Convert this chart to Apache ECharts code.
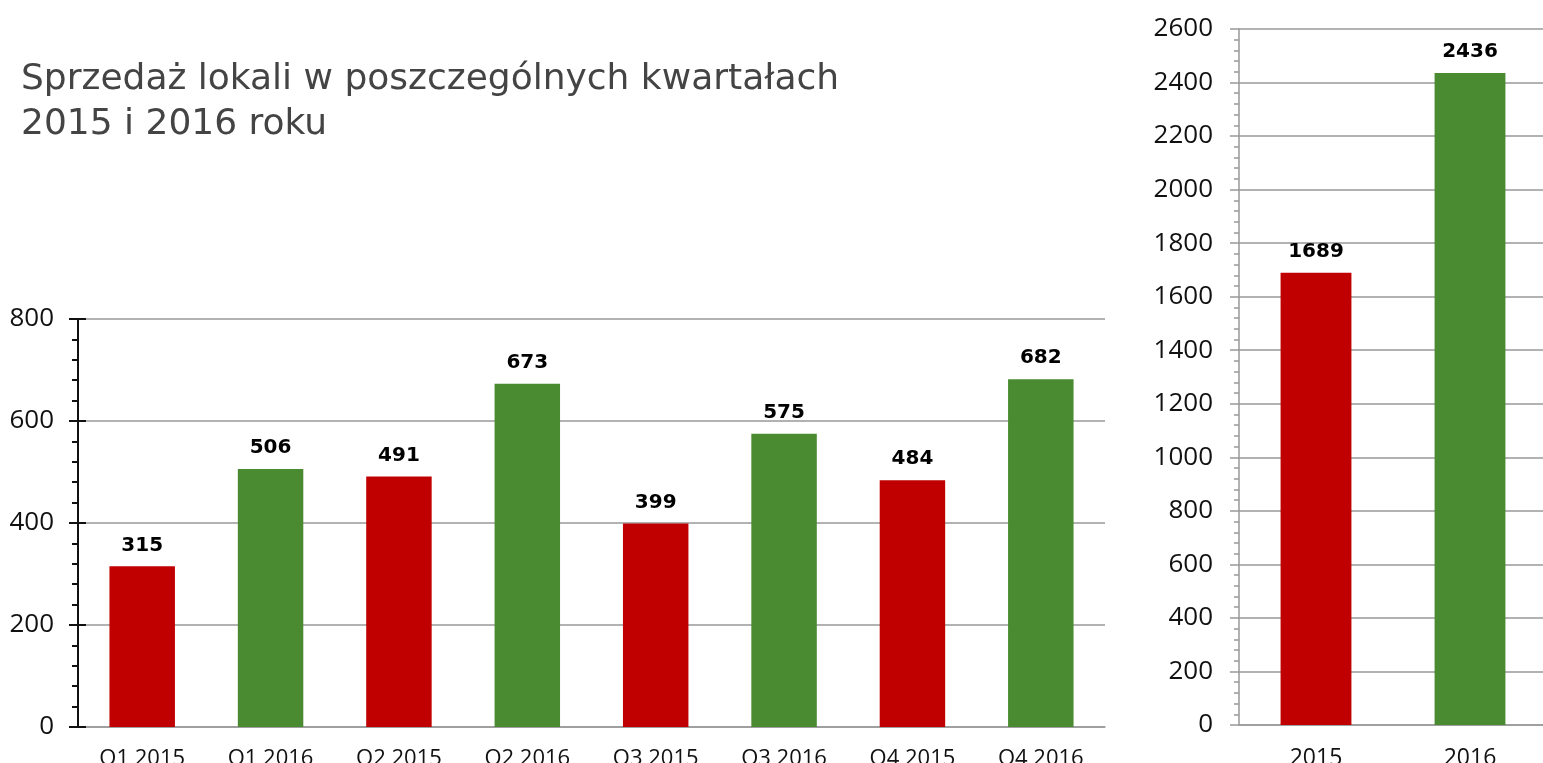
<!DOCTYPE html>
<html>
<head>
<meta charset="utf-8">
<script src="https://cdn.jsdelivr.net/npm/echarts@6/dist/echarts.min.js"></script>
<style>
  html, body { margin: 0; padding: 0; background: #fff; }
  #chart { width: 1543px; height: 763px; }
</style>
</head>
<body>
<div id="chart"></div>
<script>
const quarters = ["Q1 2015", "Q1 2016", "Q2 2015", "Q2 2016", "Q3 2015", "Q3 2016", "Q4 2015", "Q4 2016"];
const quarterValues = [315, 506, 491, 673, 399, 575, 484, 682];
const years = ["2015", "2016"];
const yearValues = [1689, 2436];

const RED = "#C00000";
const GREEN = "#4A8A30";
const colorOf = (label) => (label.indexOf("2015") >= 0 ? RED : GREEN);

const labelStyle = {
    show: true,
    position: "top",
    distance: 11,
    color: "#000",
    fontFamily: "DejaVu Sans",
    fontWeight: "bold",
    fontSize: 20,
};

const tickFont = { fontSize: 26, color: "#111", fontFamily: "Open Sans" };

const chart = echarts.init(document.getElementById("chart"));

const option = {
    animation: false,
    title: {
        text: "Sprzedaż lokali w poszczególnych kwartałach\n2015 i 2016 roku",
        left: 16,
        top: 52,
        textStyle: {
            fontFamily: "DejaVu Sans",
            fontWeight: "normal",
            fontSize: 36,
            lineHeight: 45,
            color: "#444",
        },
    },
    grid: [
        { left: 78, top: 319, width: 1027, height: 408, outerBoundsMode: "none" },
        { left: 1239, top: 29, width: 308, height: 696, outerBoundsMode: "none" },
    ],
    xAxis: [
        {
            type: "category",
            gridIndex: 0,
            data: quarters,
            axisLine: { lineStyle: { color: "#999", width: 1.5 } },
            axisTick: { interval: 1, length: 6, lineStyle: { color: "#999", width: 1.5 } },
            axisLabel: Object.assign({ interval: 0, margin: 21 }, tickFont, { fontSize: 22 }),
        },
        {
            type: "category",
            gridIndex: 1,
            data: years,
            axisLine: { lineStyle: { color: "#999", width: 1.5 } },
            axisTick: { length: 6, lineStyle: { color: "#999", width: 1.5 } },
            axisLabel: Object.assign({ interval: 0, margin: 22 }, tickFont, { fontSize: 23 }),
        },
    ],
    yAxis: [
        {
            type: "value",
            gridIndex: 0,
            min: 0,
            max: 800,
            interval: 200,
            axisLine: { show: true, lineStyle: { color: "#111", width: 2 } },
            axisTick: { show: true, length: 9, lineStyle: { color: "#111", width: 2 } },
            minorTick: { show: true, splitNumber: 5, length: 6, lineStyle: { color: "#111", width: 2 } },
            splitLine: { lineStyle: { color: "#999", width: 1.5 } },
            axisLabel: Object.assign({ margin: 24 }, tickFont),
        },
        {
            type: "value",
            gridIndex: 0,
            position: "left",
            min: 0,
            max: 800,
            interval: 200,
            axisLine: { show: false },
            axisTick: { show: true, inside: true, length: 8, lineStyle: { color: "#111", width: 2 } },
            splitLine: { show: false },
            axisLabel: { show: false },
        },
        {
            type: "value",
            gridIndex: 1,
            min: 0,
            max: 2600,
            interval: 200,
            axisLine: { show: true, lineStyle: { color: "#999", width: 1.5 } },
            axisTick: { show: true, length: 9, lineStyle: { color: "#999", width: 1.5 } },
            minorTick: { show: true, splitNumber: 5, length: 5, lineStyle: { color: "#999", width: 1.5 } },
            splitLine: { lineStyle: { color: "#999", width: 1.5 } },
            axisLabel: Object.assign({ margin: 26, formatter: (v) => String(v) }, tickFont),
        },
    ],
    series: [
        {
            type: "bar",
            xAxisIndex: 0,
            yAxisIndex: 0,
            barWidth: "51%",
            data: quarterValues.map((v, i) => ({ value: v, itemStyle: { color: colorOf(quarters[i]) } })),
            label: labelStyle,
        },
        {
            type: "bar",
            xAxisIndex: 1,
            yAxisIndex: 2,
            barWidth: "46%",
            data: yearValues.map((v, i) => ({ value: v, itemStyle: { color: colorOf(years[i]) } })),
            label: labelStyle,
        },
    ],
};

chart.setOption(option);
</script>
</body>
</html>
